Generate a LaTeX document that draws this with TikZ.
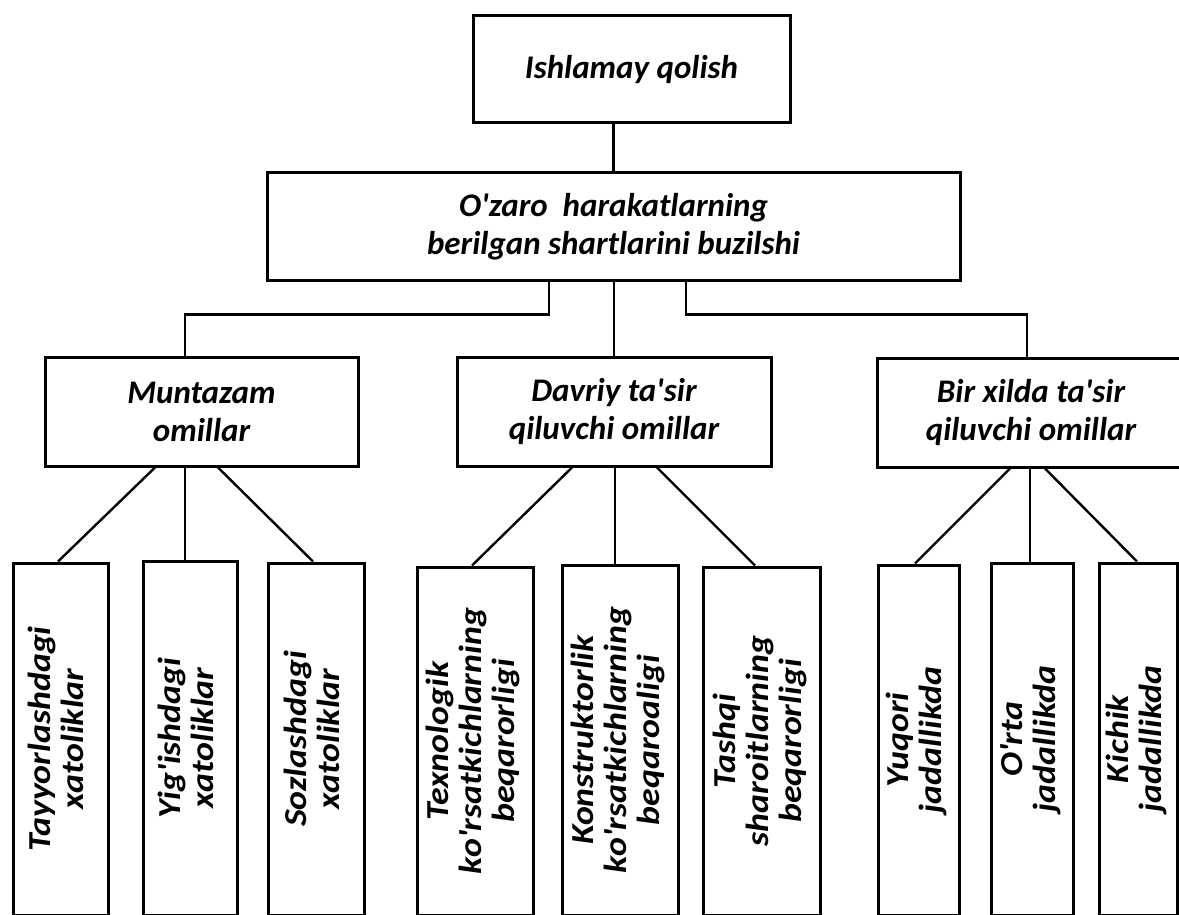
\documentclass[tikz,border=0pt]{standalone}
\usepackage{graphicx}
\usepackage{fontspec}
\setmainfont{Carlito}
\newfontfamily\leaffont{Carlito}[FakeStretch=1.12]
\newcommand\ap{\textquotesingle}
\newcommand\vt[1]{\rotatebox{90}{\begin{tabular}{@{}c@{}}#1\end{tabular}}}
\begin{document}
\begin{tikzpicture}[x=1pt,y=-1pt,
  mainbox/.style={draw,line width=3pt,inner sep=0pt,align=center,
    font=\fontsize{33}{38}\selectfont\bfseries\itshape},
  leafbox/.style={draw,line width=3pt,inner sep=0pt,
    font=\leaffont\fontsize{32}{33}\selectfont\bfseries\itshape},
  link/.style={line width=2.4pt}]
\useasboundingbox (0,0) rectangle (1179,915);
\clip (0,0) rectangle (1179,915);
\fill[white] (0,0) rectangle (1179,915);

% top levels
\node[mainbox,minimum width=317pt,minimum height=107pt] (T) at (631.5,69.5) {Ishlamay qolish};
\node[mainbox,minimum width=693pt,minimum height=107pt] (B2) at (613.5,226.5)
  {O\ap zaro\ \ harakatlarning\\berilgan shartlarini buzilshi};

% middle level
\node[mainbox,minimum width=313pt,minimum height=109pt] (M) at (201.5,411.5) {Muntazam\\omillar};
\node[mainbox,minimum width=314pt,minimum height=109pt] (D) at (614,411.5) {Davriy ta\ap sir\\qiluvchi omillar};
\node[mainbox,minimum width=308pt,minimum height=109pt] (BX) at (1031,412.5) {Bir xilda ta\ap sir\\qiluvchi omillar};

% leaves
\node[leafbox,minimum width=95pt,minimum height=352pt] (L1) at (60.5,739) {\vt{Tayyorlashdagi\\xatoliklar}};
\node[leafbox,minimum width=94pt,minimum height=354pt] (L2) at (190,738) {\vt{Yig\ap ishdagi\\xatoliklar}};
\node[leafbox,minimum width=96pt,minimum height=352pt] (L3) at (316,739) {\vt{Sozlashdagi\\xatoliklar}};
\node[leafbox,minimum width=116pt,minimum height=348pt] (L4) at (475,741) {\vt{Texnologik\\ko\ap rsatkichlarning\\beqarorligi}};
\node[leafbox,minimum width=116pt,minimum height=350pt] (L5) at (620,740) {\vt{Konstruktorlik\\ko\ap rsatkichlarning\\beqaroaligi}};
\node[leafbox,minimum width=117pt,minimum height=348pt] (L6) at (761.5,741) {\vt{Tashqi\\sharoitlarning\\beqarorligi}};
\node[leafbox,minimum width=81pt,minimum height=350pt] (L7) at (918.5,740) {\vt{Yuqori\\jadallikda}};
\node[leafbox,minimum width=82pt,minimum height=352pt] (L8) at (1032,739) {\vt{O\ap rta\\jadallikda}};
\node[leafbox,minimum width=78pt,minimum height=352pt] (L9) at (1138,739) {\vt{Kichik\\jadallikda}};

% connectors
\draw[link] (B2.north |- T.south) -- (B2.north);
\draw[link] ([xshift=-64.5pt]B2.south) -- ++(0,33) -| ([xshift=-16.5pt]M.north);
\draw[link] (D.north |- B2.south) -- (D.north);
\draw[link] ([xshift=72.5pt]B2.south) -- ++(0,33) -| ([xshift=-4pt]BX.north);

\draw[link] ([xshift=-46.5pt]M.south) -- ([xshift=-2.5pt]L1.north);
\draw[link] ([xshift=-16.5pt]M.south) -- ([xshift=-5pt]L2.north);
\draw[link] ([xshift=16.5pt]M.south) -- ([xshift=-3pt]L3.north);

\draw[link] ([xshift=-42pt]D.south) -- ([xshift=-3pt]L4.north);
\draw[link] ([xshift=1pt]D.south) -- ([xshift=-5pt]L5.north);
\draw[link] ([xshift=43pt]D.south) -- ([xshift=-6.5pt]L6.north);

\draw[link] ([xshift=-21pt]BX.south) -- ([xshift=-3.5pt]L7.north);
\draw[link] ([xshift=-1pt]BX.south) -- ([xshift=-2pt]L8.north);
\draw[link] ([xshift=14pt]BX.south) -- ([xshift=-1pt]L9.north);
\end{tikzpicture}
\end{document}
